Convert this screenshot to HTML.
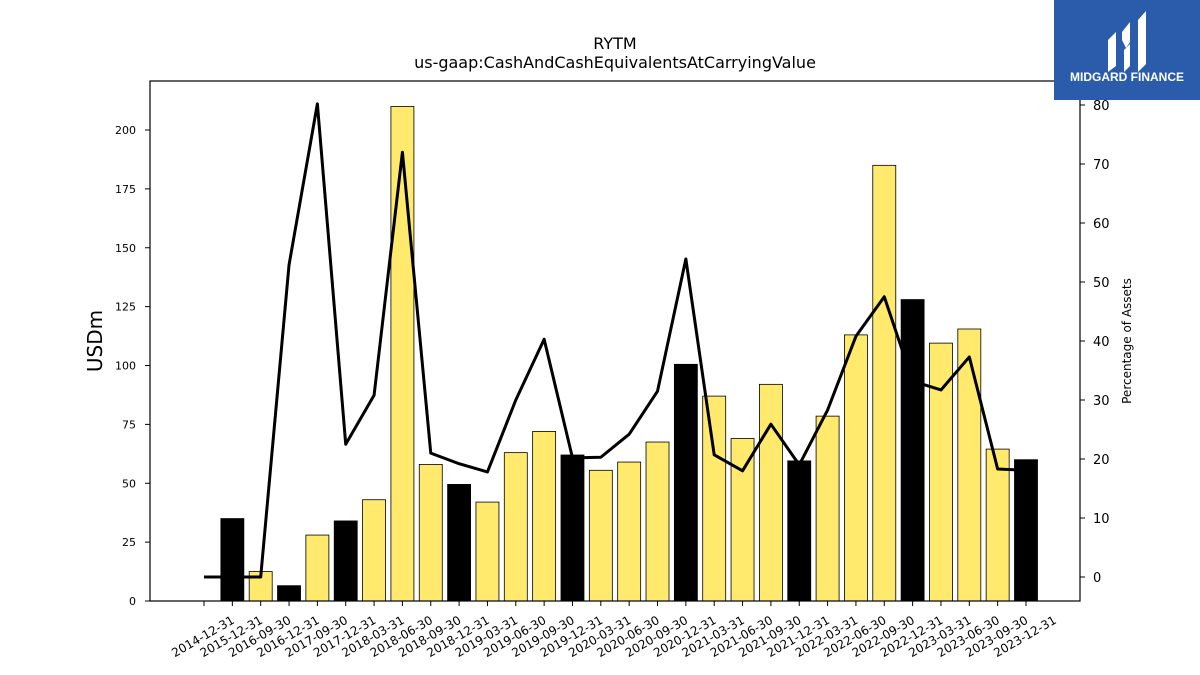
<!DOCTYPE html>
<html><head><meta charset="utf-8"><style>
body{margin:0;background:#fff;font-family:"Liberation Sans","DejaVu Sans",sans-serif}
svg{display:block}
</style></head><body>
<svg id="chart" width="1200" height="675" xmlns="http://www.w3.org/2000/svg" font-family="DejaVu Sans, Liberation Sans, sans-serif">
<rect width="1200" height="675" fill="#fff"/>
<text x="615" y="49" text-anchor="middle" font-size="16">RYTM</text>
<text x="615" y="68" text-anchor="middle" font-size="16">us-gaap:CashAndCashEquivalentsAtCarryingValue</text>
<g id="bars"></g>
<g id="line"></g>
<rect x="150" y="81" width="930" height="520" fill="none" stroke="#000" stroke-width="1.2"/>
<g id="lticks"></g>
<g id="rticks"></g>
<g id="xticks"></g>
<text transform="translate(102,341) rotate(-90)" text-anchor="middle" font-size="20">USDm</text>
<text transform="translate(1131,341) rotate(-90)" text-anchor="middle" font-size="12">Percentage of Assets</text>
<g>
<rect x="1054" y="0" width="146" height="100" fill="#2b5cac"/>
<path d="M1108 40 L1116 32 L1116 66 L1108 72 Z M1122 32 L1130 22 L1130 42 L1126 48 L1122 40 Z M1124 50 L1130 44 L1130 66 L1124 72 Z M1138 20 L1146 11 L1146 64 L1138 72 Z" fill="#fff"/>
<text x="1127" y="81" text-anchor="middle" font-size="12" font-weight="bold" fill="#fff" font-family="Liberation Sans, sans-serif">MIDGARD FINANCE</text>
</g>
</svg>
<script>
const categories=["2014-12-31","2015-12-31","2016-09-30","2016-12-31","2017-09-30","2017-12-31","2018-03-31","2018-06-30","2018-09-30","2018-12-31","2019-03-31","2019-06-30","2019-09-30","2019-12-31","2020-03-31","2020-06-30","2020-09-30","2020-12-31","2021-03-31","2021-06-30","2021-09-30","2021-12-31","2022-03-31","2022-06-30","2022-09-30","2022-12-31","2023-03-31","2023-06-30","2023-09-30","2023-12-31"];
const cashValues=[null,35,12.5,6.5,28,34,43,210,58,49.5,42,63,72,62,55.5,59,67.5,100.5,87,69,92,59.5,78.5,113,185,128,109.5,115.5,64.5,60];
const annualFlags=[0,1,0,1,0,1,0,0,0,1,0,0,0,1,0,0,0,1,0,0,0,1,0,0,0,1,0,0,0,1];
const pctValues=[0,0,0,52.9,80.2,22.5,30.8,72,21,19.2,17.8,30,40.3,20.2,20.3,24.2,31.5,53.9,20.7,18,25.9,19,28.3,40.8,47.5,33.2,31.7,37.3,18.3,18.1];
const leftTicks=[0,25,50,75,100,125,150,175,200];
const rightTicks=[0,10,20,30,40,50,60,70,80];
const NS="http://www.w3.org/2000/svg";
const xPos=i=>204+i*(1026-204)/(categories.length-1);
const yL=v=>601-v*(601-130)/200;
const yR=v=>577-v*(577-105)/80;
const bw=23;
function mk(t,a,p){const e=document.createElementNS(NS,t);for(const k in a)e.setAttribute(k,a[k]);p.appendChild(e);return e;}
const bars=document.getElementById('bars');
cashValues.forEach((v,i)=>{if(v==null)return;
const r=mk('rect',{x:xPos(i)-bw/2,y:yL(v),width:bw,height:yL(0)-yL(v),fill:annualFlags[i]?'#000':'#ffea6e',stroke:'#000','stroke-width':0.8},bars);

});
const line=document.getElementById('line');
const pl=mk('polyline',{points:pctValues.map((v,i)=>xPos(i)+','+yR(v)).join(' '),fill:'none',stroke:'#000','stroke-width':3,'stroke-linejoin':'round'},line);


const lt=document.getElementById('lticks');
leftTicks.forEach(v=>{const y=yL(v);mk('line',{x1:145,x2:150,y1:y,y2:y,stroke:'#000'},lt);
const t=mk('text',{x:136,y:y+4,'text-anchor':'end','font-size':11},lt);t.textContent=v;

});
const rt=document.getElementById('rticks');
rightTicks.forEach(v=>{const y=yR(v);mk('line',{x1:1080,x2:1085,y1:y,y2:y,stroke:'#000'},rt);
const t=mk('text',{x:1093,y:y+5,'font-size':13},rt);t.textContent=v;

});
const xt=document.getElementById('xticks');
categories.forEach((c,i)=>{const x=xPos(i);mk('line',{x1:x,x2:x,y1:601,y2:606,stroke:'#000'},xt);
const t=mk('text',{transform:`translate(${x+1},${640}) rotate(-30)`,'text-anchor':'middle','font-size':12},xt);t.textContent=c;

});
</script>
</body></html>
